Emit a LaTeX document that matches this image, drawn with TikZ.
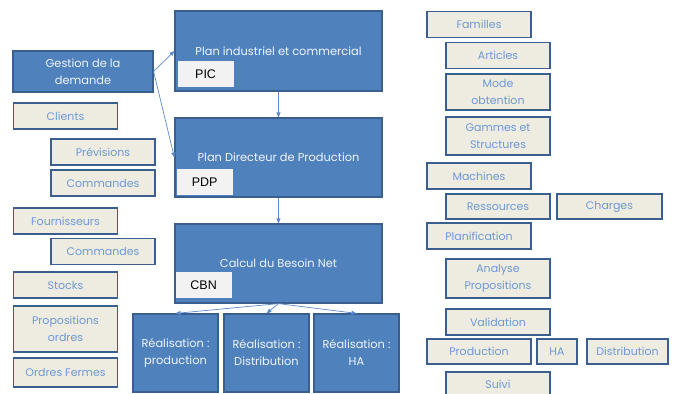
\documentclass[tikz,border=0pt]{standalone}
\usepackage{fontspec}
\usetikzlibrary{arrows.meta}
\newfontfamily\gothic{Poppins}
\newfontfamily\arial{Liberation Sans}

\definecolor{boxblue}{HTML}{4F81BD}
\definecolor{edgeblue}{HTML}{3A5F8E}
\definecolor{paper}{HTML}{EEECE1}
\definecolor{textblue}{HTML}{6C98D6}
\definecolor{tagfill}{HTML}{F2F2F2}
\definecolor{arrowblue}{HTML}{5B8ACB}

\tikzset{
  bigbox/.style = {draw = edgeblue, fill = boxblue, line width = 1.2pt, text = white!92!boxblue,
                   inner sep = 0pt, align = center, font = \gothic\fontsize{11.4}{17}\selectfont},
  smallbox/.style = {draw = edgeblue, fill = paper, line width = 1.7pt, text = textblue,
                     minimum width = 104pt, minimum height = 26pt, inner sep = 0pt,
                     align = center, font = \gothic\fontsize{11}{16.5}\selectfont},
  tagbox/.style = {fill = tagfill, minimum width = 56pt, minimum height = 26pt, inner sep = 0pt,
                   anchor = south west, font = \arial\fontsize{12.5}{14}\selectfont},
  link/.style = {draw = arrowblue, line width = 0.7pt, -{Triangle[length = 5pt, width = 4pt]}}
}

\begin{document}
\begin{tikzpicture}[x = 1pt, y = -1pt]
            \useasboundingbox (0, 0) rectangle (673, 394);
            \clip (0, 0) rectangle (673, 394);

            % Left column
            \node [bigbox, minimum width = 140pt, minimum height = 41pt] (gestion) at (83, 71.5) {Gestion de la\\demande};
            \node [smallbox] (clients) at (65.5, 116) {Clients};
            \node [smallbox] (previsions) at (103, 152) {Prévisions};
            \node [smallbox] (cmdclients) at (103, 183) {Commandes};
            \node [smallbox] (fournisseurs) at (65.5, 221) {Fournisseurs};
            \node [smallbox] (cmdfourn) at (103, 251.5) {Commandes};
            \node [smallbox] (stocks) at (65.5, 285) {Stocks};
            \node [smallbox, minimum height = 46pt] (propositions) at (65.5, 329) {Propositions\\ordres};
            \node [smallbox, minimum height = 29pt] (fermes) at (65.5, 372.5) {Ordres Fermes};

            % Planning chain
            \node [bigbox, minimum width = 207pt, minimum height = 80pt] (pic) at (278.5, 51) {Plan industriel et commercial};
            \node [tagbox] (tagpic) at ([xshift = 3pt, yshift = 4pt] pic.south west) {PIC};
            \node [bigbox, minimum width = 207pt, minimum height = 79pt] (pdp) at (278.5, 157.5) {Plan Directeur de Production};
            \node [tagbox] (tagpdp) at ([xshift = 2pt, yshift = 2pt] pdp.south west) {PDP};
            \node [bigbox, minimum width = 207pt, minimum height = 79pt] (cbn) at (278.5, 263.5) {Calcul du Besoin Net};
            \node [tagbox] (tagcbn) at ([xshift = 1pt, yshift = 5pt] cbn.south west) {CBN};

            % Realisation
            \node [bigbox, minimum width = 85pt, minimum height = 78pt] (realprod) at (175.5, 353) {Réalisation :\\production};
            \node [bigbox, minimum width = 85pt, minimum height = 78pt] (realdist) at (266.5, 353) {Réalisation :\\Distribution};
            \node [bigbox, minimum width = 85pt, minimum height = 78pt] (realha) at (356.5, 353) {Réalisation :\\HA};

            \draw [link] (gestion.east) -- (pic.west);
            \draw [link] (gestion.east) -- (pdp.west);
            \draw [link] (pic.south) -- (pdp.north);
            \draw [link] (pdp.south) -- (cbn.north);
            \draw [link] (cbn.south) -- (realprod.north);
            \draw [link] (cbn.south) -- (realdist.north);
            \draw [link] (cbn.south) -- (realha.north);

            % Right column
            \node [smallbox] (familles) at (479, 24.5) {Familles};
            \node [smallbox] (articles) at (498, 55.5) {Articles};
            \node [smallbox, minimum height = 36pt] (mode) at (498, 92) {Mode\\obtention};
            \node [smallbox, minimum height = 38pt] (gammes) at (498, 136) {Gammes et\\Structures};
            \node [smallbox] (machines) at (479, 176) {Machines};
            \node [smallbox, minimum height = 25pt] (ressources) at (498, 206.5) {Ressources};
            \node [smallbox, minimum width = 105pt, minimum height = 25pt] (charges) at (609.5, 206.5) {Charges};
            \node [smallbox] (planif) at (479, 236) {Planification};
            \node [smallbox, minimum height = 39pt] (analyse) at (498, 278.5) {Analyse\\Propositions};
            \node [smallbox] (validation) at (498, 322) {Validation};
            \node [smallbox, minimum height = 25pt] (production) at (479, 351.5) {Production};
            \node [smallbox, minimum width = 40pt, minimum height = 25pt] (ha) at (557, 351.5) {HA};
            \node [smallbox, minimum width = 81pt, minimum height = 25pt] (distribution) at (627.5, 351.5) {Distribution};
            \node [smallbox, minimum height = 25pt] (suivi) at (498, 384.5) {Suivi};

        \end{tikzpicture}
\end{document}
